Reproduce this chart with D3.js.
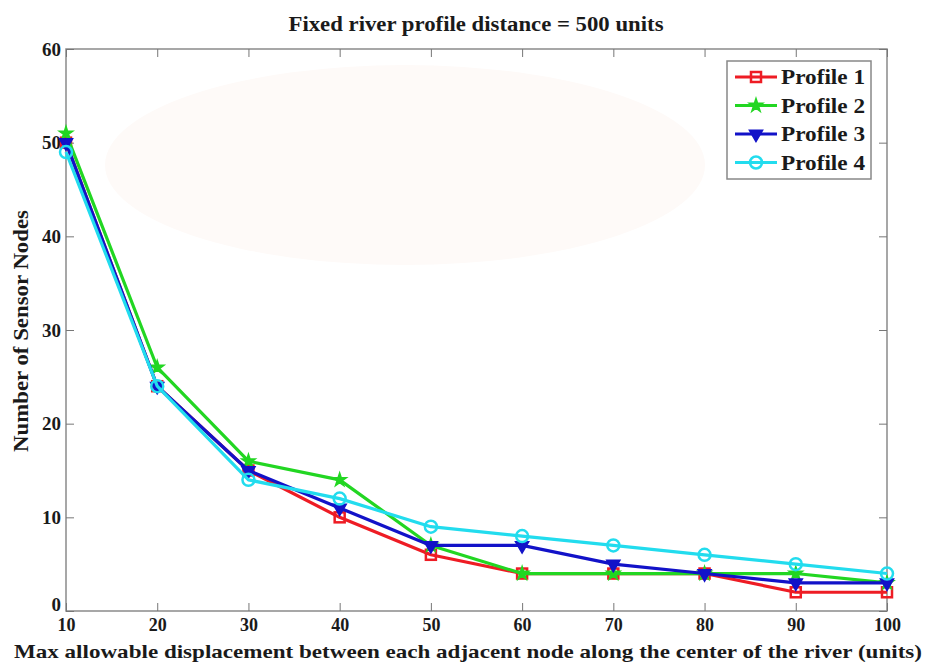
<!DOCTYPE html>
<html>
<head>
<meta charset="utf-8">
<script src="https://cdn.jsdelivr.net/npm/d3@7/dist/d3.min.js"></script>
<style>
  body { margin: 0; background: #fff; }
  text { font-family: "Liberation Serif", "DejaVu Serif", serif; font-weight: bold; fill: #1a1a1a; }
</style>
</head>
<body>
<svg id="chart" width="928" height="664"></svg>
<script>
// data
var xValues = [10, 20, 30, 40, 50, 60, 70, 80, 90, 100];
var profile1 = [50, 24, 15, 10, 6, 4, 4, 4, 2, 2];
var profile2 = [51, 26, 16, 14, 7, 4, 4, 4, 4, 3];
var profile3 = [50, 24, 15, 11, 7, 7, 5, 4, 3, 3];
var profile4 = [49, 24, 14, 12, 9, 8, 7, 6, 5, 4];
var seriesNames = ['Profile 1', 'Profile 2', 'Profile 3', 'Profile 4'];
var xTicks = [10, 20, 30, 40, 50, 60, 70, 80, 90, 100];
var yTicks = [0, 10, 20, 30, 40, 50, 60];

var colors = ['#ee1c24', '#22d622', '#1212c8', '#22dcee'];
var symbols = ['square', 'star', 'tri', 'circle'];
var allSeries = [profile1, profile2, profile3, profile4];

var svg = d3.select('#chart');
var pLeft = 66, pRight = 887, pTop = 49, pBottom = 611;

var x = d3.scaleLinear().domain([10, 100]).range([pLeft, pRight]);
var y = d3.scaleLinear().domain([0, 60]).range([pBottom, pTop]);

// faint background watermark tint
svg.append('ellipse')
    .attr('cx', 405).attr('cy', 165).attr('rx', 300).attr('ry', 100)
    .attr('fill', '#fefaf8');

// axes box
svg.append('rect')
    .attr('x', pLeft).attr('y', pTop)
    .attr('width', pRight - pLeft).attr('height', pBottom - pTop)
    .attr('fill', 'none').attr('stroke', '#8a8a8a').attr('stroke-width', 1.5);

var tickLen = 8;
var tickColor = '#777';

// bottom axis (ticks inward) + top mirror ticks
var xAxis = svg.append('g').attr('transform', 'translate(0,' + pBottom + ')')
    .call(d3.axisBottom(x).tickValues(xTicks).tickSizeInner(-tickLen).tickSizeOuter(0).tickPadding(7));
xAxis.select('.domain').remove();
xAxis.selectAll('line').attr('stroke', tickColor);
xAxis.selectAll('text').attr('font-size', 18).attr('fill', '#1a1a1a')
    .attr('font-family', 'Liberation Serif').attr('font-weight', 'bold');

var xTop = svg.append('g').attr('transform', 'translate(0,' + pTop + ')')
    .call(d3.axisTop(x).tickValues(xTicks).tickSizeInner(-tickLen).tickSizeOuter(0).tickFormat(''));
xTop.select('.domain').remove();
xTop.selectAll('line').attr('stroke', tickColor);

var yAxis = svg.append('g').attr('transform', 'translate(' + pLeft + ',0)')
    .call(d3.axisLeft(y).tickValues(yTicks).tickSizeInner(-tickLen).tickSizeOuter(0).tickPadding(5));
yAxis.select('.domain').remove();
yAxis.selectAll('line').attr('stroke', tickColor);
yAxis.selectAll('text').attr('font-size', 19).attr('fill', '#1a1a1a')
    .attr('font-family', 'Liberation Serif').attr('font-weight', 'bold');
// the 0 label sits a little higher so it clears the "10" below it
yAxis.selectAll('.tick').filter(function(d) { return d === 0; })
    .select('text').attr('dy', '-0.05em');

var yRight = svg.append('g').attr('transform', 'translate(' + pRight + ',0)')
    .call(d3.axisRight(y).tickValues(yTicks).tickSizeInner(-tickLen).tickSizeOuter(0).tickFormat(''));
yRight.select('.domain').remove();
yRight.selectAll('line').attr('stroke', tickColor);

// marker drawing
function drawMarker(g, kind, color, cx, cy) {
    if (kind == 'square') {
        g.append('rect').attr('x', cx - 5).attr('y', cy - 5).attr('width', 10).attr('height', 10)
            .attr('fill', 'none').attr('stroke', color).attr('stroke-width', 2.5);
    } else if (kind == 'star') {
        g.append('path').attr('d', d3.symbol().type(d3.symbolStar).size(55)())
            .attr('transform', 'translate(' + cx + ',' + cy + ')')
            .attr('fill', color).attr('stroke', color).attr('stroke-width', 1.5);
    } else if (kind == 'tri') {
        g.append('path').attr('d', d3.symbol().type(d3.symbolTriangle).size(75)())
            .attr('transform', 'translate(' + cx + ',' + cy + ') rotate(180)')
            .attr('fill', color).attr('stroke', color).attr('stroke-width', 1.5);
    } else {
        g.append('circle').attr('cx', cx).attr('cy', cy).attr('r', 6)
            .attr('fill', 'none').attr('stroke', color).attr('stroke-width', 2.5);
    }
}

var line = d3.line()
    .x(function(d, i) { return x(xValues[i]); })
    .y(function(d) { return y(d); });

allSeries.forEach(function(vals, k) {
    var g = svg.append('g');
    g.append('path').datum(vals)
        .attr('d', line)
        .attr('fill', 'none').attr('stroke', colors[k]).attr('stroke-width', 3.2)
        .attr('stroke-linejoin', 'round');
    vals.forEach(function(v, i) {
        drawMarker(g, symbols[k], colors[k], x(xValues[i]), y(v));
    });
});

// legend
var lg = svg.append('g');
lg.append('rect').attr('x', 727).attr('y', 61).attr('width', 144).attr('height', 118)
    .attr('fill', '#fff').attr('stroke', '#888').attr('stroke-width', 1.5);
seriesNames.forEach(function(name, k) {
    var ly = 77 + k * 28.5;
    lg.append('line').attr('x1', 735).attr('x2', 777).attr('y1', ly).attr('y2', ly)
        .attr('stroke', colors[k]).attr('stroke-width', 3.2);
    drawMarker(lg, symbols[k], colors[k], 756, ly);
    lg.append('text').attr('x', 781).attr('y', ly + 7).attr('font-size', 20)
        .attr('textLength', 84).attr('lengthAdjust', 'spacingAndGlyphs')
        .text(name);
});

// title and axis labels
svg.append('text').attr('x', 476).attr('y', 31).attr('text-anchor', 'middle')
    .attr('font-size', 20).attr('textLength', 375).attr('lengthAdjust', 'spacingAndGlyphs')
    .text('Fixed river profile distance = 500 units');

svg.append('text').attr('x', 468).attr('y', 658).attr('text-anchor', 'middle')
    .attr('font-size', 19).attr('textLength', 908).attr('lengthAdjust', 'spacingAndGlyphs')
    .text('Max allowable displacement between each adjacent node along the center of the river (units)');

svg.append('text').attr('transform', 'translate(28,331) rotate(-90)').attr('text-anchor', 'middle')
    .attr('font-size', 20).attr('textLength', 242).attr('lengthAdjust', 'spacingAndGlyphs')
    .text('Number of Sensor Nodes');
</script>
</body>
</html>
